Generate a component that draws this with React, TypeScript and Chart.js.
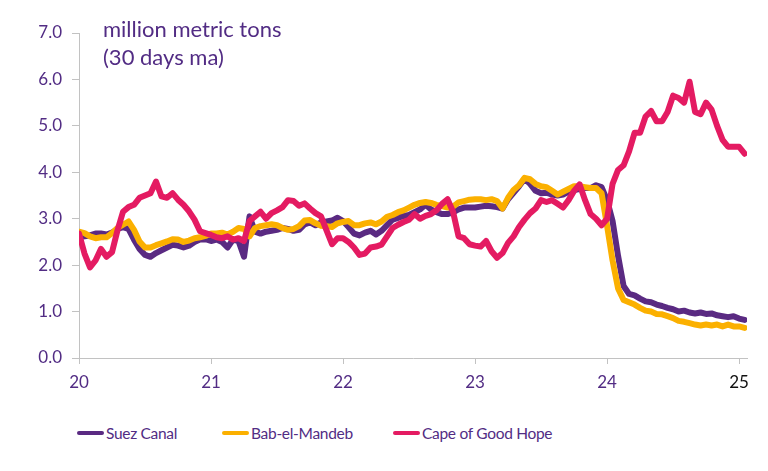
import React, { useEffect, useRef } from "react";
import { Chart, registerables } from "chart.js";

Chart.register(...registerables);

// x positions: half-monthly observations starting at the beginning of 2020 (axis in 2-digit years)
const START_YEAR = 20;
const STEP_YEARS = 1 / 24;
const X_MIN = 20;
const X_MAX = 25.06;
const X_TICKS = [20, 21, 22, 23, 24, 25];
const Y_MIN = 0;
const Y_MAX = 7;

const TITLE_LINES = ["million metric tons", "(30 days ma)"];
const SERIES_NAMES = ["Suez Canal", "Bab-el-Mandeb", "Cape of Good Hope"];

const SUEZ = [
  2.60, 2.62, 2.64, 2.68, 2.68, 2.66, 2.70, 2.78, 2.82, 2.78, 2.55, 2.35,
  2.22, 2.18, 2.26, 2.32, 2.38, 2.44, 2.42, 2.38, 2.42, 2.50, 2.55, 2.56,
  2.52, 2.55, 2.50, 2.38, 2.55, 2.52, 2.18, 3.05, 2.72, 2.68, 2.72, 2.74,
  2.76, 2.80, 2.78, 2.74, 2.76, 2.88, 2.92, 2.86, 2.92, 2.94, 2.96, 3.02,
  2.95, 2.82, 2.68, 2.64, 2.70, 2.74, 2.66, 2.74, 2.86, 2.98, 3.02, 3.06,
  3.08, 3.14, 3.20, 3.30, 3.20, 3.14, 3.10, 3.10, 3.14, 3.20, 3.24, 3.24,
  3.24, 3.26, 3.28, 3.27, 3.25, 3.22, 3.42, 3.56, 3.70, 3.86, 3.75, 3.60,
  3.55, 3.56, 3.52, 3.50, 3.52, 3.58, 3.62, 3.64, 3.66, 3.66, 3.72, 3.68,
  3.40, 2.95, 2.20, 1.55, 1.38, 1.35, 1.28, 1.22, 1.20, 1.15, 1.12, 1.08,
  1.05, 1.00, 1.02, 0.98, 0.96, 0.98, 0.95, 0.96, 0.92, 0.90, 0.88, 0.90,
  0.85, 0.82,
];

const BAB = [
  2.72, 2.69, 2.62, 2.58, 2.60, 2.60, 2.69, 2.80, 2.87, 2.94, 2.76, 2.51,
  2.38, 2.38, 2.43, 2.47, 2.51, 2.56, 2.55, 2.50, 2.53, 2.58, 2.60, 2.63,
  2.68, 2.68, 2.70, 2.66, 2.72, 2.80, 2.78, 2.62, 2.80, 2.84, 2.86, 2.88,
  2.86, 2.80, 2.76, 2.78, 2.84, 2.96, 2.97, 2.90, 2.85, 2.84, 2.82, 2.90,
  2.93, 2.95, 2.86, 2.86, 2.90, 2.92, 2.88, 2.94, 3.04, 3.08, 3.14, 3.18,
  3.24, 3.30, 3.34, 3.36, 3.34, 3.30, 3.27, 3.24, 3.26, 3.35, 3.38, 3.41,
  3.42, 3.42, 3.40, 3.42, 3.38, 3.22, 3.45, 3.62, 3.72, 3.88, 3.85, 3.75,
  3.70, 3.68, 3.60, 3.52, 3.58, 3.64, 3.70, 3.70, 3.68, 3.66, 3.66, 3.55,
  2.85, 2.10, 1.50, 1.25, 1.20, 1.15, 1.08, 1.02, 1.00, 0.95, 0.94, 0.90,
  0.86, 0.80, 0.78, 0.75, 0.72, 0.70, 0.72, 0.70, 0.72, 0.68, 0.72, 0.68,
  0.68, 0.65,
];

const CAPE = [
  2.68, 2.25, 1.95, 2.10, 2.35, 2.18, 2.28, 2.75, 3.15, 3.25, 3.30, 3.45,
  3.50, 3.55, 3.80, 3.48, 3.45, 3.55, 3.41, 3.30, 3.16, 2.98, 2.73, 2.69,
  2.65, 2.60, 2.58, 2.62, 2.55, 2.58, 2.52, 2.95, 3.05, 3.15, 3.00, 3.12,
  3.18, 3.25, 3.40, 3.38, 3.28, 3.33, 3.22, 3.12, 3.05, 2.75, 2.45, 2.58,
  2.58, 2.50, 2.38, 2.22, 2.25, 2.38, 2.40, 2.44, 2.62, 2.80, 2.87, 2.93,
  2.98, 3.10, 3.00, 3.06, 3.10, 3.18, 3.32, 3.42, 3.15, 2.62, 2.58, 2.45,
  2.42, 2.40, 2.52, 2.30, 2.16, 2.26, 2.48, 2.62, 2.82, 2.98, 3.12, 3.22,
  3.40, 3.36, 3.40, 3.32, 3.24, 3.40, 3.60, 3.74, 3.40, 3.10, 3.00, 2.86,
  3.00, 3.75, 4.05, 4.15, 4.45, 4.85, 4.85, 5.20, 5.32, 5.10, 5.10, 5.30,
  5.65, 5.60, 5.50, 5.95, 5.30, 5.25, 5.50, 5.35, 5.00, 4.70, 4.55, 4.55,
  4.55, 4.40,
];

const COLORS = ["#5a2a82", "#fbb000", "#e41b62"];
const TEXT_PURPLE = "#522c84";
const AXIS_GREY = "#c2c2c2";
const FONT = "Lato, 'Noto Sans', sans-serif";

const toPoints = (vals: number[]) =>
  vals.map((v, i) => ({ x: START_YEAR + i * STEP_YEARS, y: v }));

const titlePlugin = {
  id: "cornerTitle",
  afterDraw(chart: any) {
    const { ctx, chartArea } = chart;
    ctx.save();
    ctx.font = `22px ${FONT}`;
    ctx.fillStyle = TEXT_PURPLE;
    ctx.textBaseline = "middle";
    ctx.textAlign = "left";
    TITLE_LINES.forEach((line, k) => {
      ctx.fillText(line, chartArea.left + 24, chartArea.top - 3 + k * 28);
    });
    ctx.restore();
  },
};

export default function App() {
  const canvasRef = useRef<HTMLCanvasElement | null>(null);

  useEffect(() => {
    if (!canvasRef.current) return;
    const seriesVals = [SUEZ, BAB, CAPE];
    const chart = new Chart(canvasRef.current, {
      type: "line",
      data: {
        datasets: seriesVals.map((vals, k) => ({
          label: SERIES_NAMES[k],
          data: toPoints(vals),
          borderColor: COLORS[k],
          backgroundColor: COLORS[k],
          borderWidth: 6,
          pointRadius: 0,
          tension: 0,
          borderJoinStyle: "round" as const,
          borderCapStyle: "round" as const,
          order: 2 - k,
        })),
      },
      options: {
        animation: false,
        responsive: true,
        maintainAspectRatio: false,
        layout: { padding: { top: 25, right: 13, left: 0, bottom: 0 } },
        plugins: {
          legend: { display: false },
          tooltip: { enabled: false },
          title: { display: false },
        },
        scales: {
          x: {
            type: "linear",
            min: X_MIN,
            max: X_MAX,
            afterBuildTicks: (s: any) => {
              s.ticks = X_TICKS.map((v) => ({ value: v }));
            },
            afterFit: (s: any) => {
              s.height = 50;
            },
            ticks: {
              autoSkip: false,
              maxRotation: 0,
              padding: 8,
              font: { family: FONT, size: 17 },
              color: (c: any) => (c.tick && c.tick.value === 25 ? "#111111" : TEXT_PURPLE),
              callback: (v: any) => String(v),
            },
            grid: { drawOnChartArea: false, tickLength: 6, color: AXIS_GREY },
            border: { color: AXIS_GREY },
          },
          y: {
            min: Y_MIN,
            max: Y_MAX,
            afterFit: (s: any) => {
              s.width = 71;
            },
            ticks: {
              stepSize: 1,
              padding: 10,
              font: { family: FONT, size: 17 },
              color: TEXT_PURPLE,
              callback: (v: any) => Number(v).toFixed(1),
            },
            grid: { drawOnChartArea: false, tickLength: 7, color: AXIS_GREY },
            border: { color: AXIS_GREY },
          },
        },
      },
      plugins: [titlePlugin],
    });
    return () => chart.destroy();
  }, []);

  const legendLeft = [69, 214, 385];

  return (
    <div style={{ position: "relative", width: 752, height: 455, fontFamily: FONT }}>
      <div style={{ position: "absolute", left: 0, top: 0, width: 752, height: 400 }}>
        <canvas ref={canvasRef} />
      </div>
      {SERIES_NAMES.map((name, k) => (
        <div
          key={name}
          style={{
            position: "absolute",
            left: legendLeft[k],
            top: 414,
            height: 22,
            display: "flex",
            alignItems: "center",
            whiteSpace: "nowrap",
          }}
        >
          <span
            style={{
              display: "inline-block",
              width: 27,
              height: 4,
              borderRadius: 2,
              background: COLORS[k],
            }}
          />
          <span
            style={{
              marginLeft: 2,
              fontSize: 15.5,
              letterSpacing: "-0.3px",
              color: TEXT_PURPLE,
              lineHeight: "22px",
            }}
          >
            {name}
          </span>
        </div>
      ))}
    </div>
  );
}
